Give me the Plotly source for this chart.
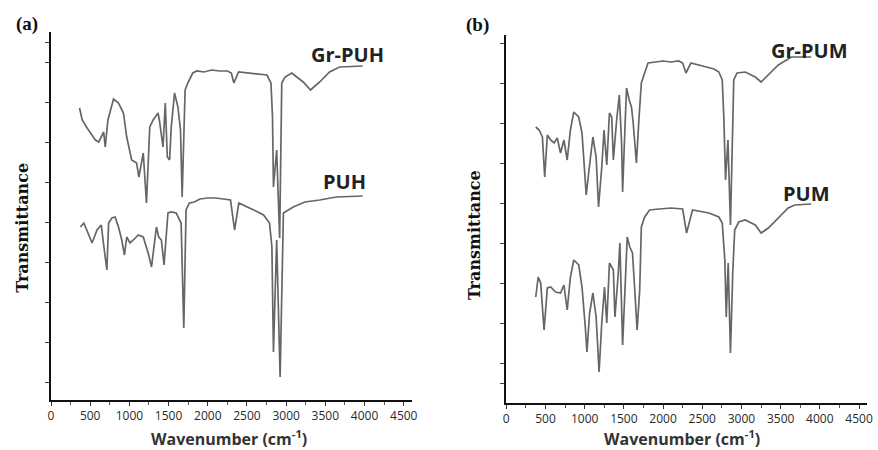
import plotly.graph_objects as go

# ---------------- data ----------------
# Panel (a)
gr_puh_wn = [364, 398, 461, 566, 609, 672, 692, 726, 798, 861, 924, 966, 1029, 1092, 1121, 1177,
             1218, 1260, 1303, 1366, 1386, 1429, 1458, 1484, 1513, 1534, 1576, 1619, 1652, 1673,
             1711, 1745, 1808, 1860, 1950, 2050, 2150, 2250, 2300, 2333, 2393, 2500, 2650, 2755,
             2806, 2826, 2838, 2879, 2917, 2944, 2986, 3071, 3217, 3311, 3428, 3554, 3681, 3975]
gr_puh_t = [292, 280, 272, 260, 258, 268, 253, 280, 301, 297, 287, 263, 240, 237, 223, 247,
            197, 273, 280, 287, 278, 253, 297, 243, 240, 273, 307, 293, 270, 203,
            310, 317, 327, 329, 328, 330, 329, 329, 327, 317, 328, 327, 326, 325,
            317, 283, 213, 250, 162, 317, 323, 327, 318, 310, 318, 328, 333, 334]

puh_wn = [376, 419, 482, 524, 587, 641, 672, 713, 735, 777, 818, 861, 903, 937, 966, 1008, 1050,
          1114, 1177, 1218, 1247, 1282, 1323, 1345, 1374, 1408, 1442, 1471, 1492, 1534, 1597,
          1660, 1694, 1723, 1765, 1828, 1900, 2000, 2100, 2200, 2290, 2342, 2396, 2586, 2712,
          2788, 2818, 2838, 2879, 2923, 2965, 3091, 3239, 3428, 3639, 3975]
puh_t = [173, 177, 165, 157, 170, 175, 155, 130, 177, 182, 183, 173, 160, 145, 163, 157, 160,
         165, 163, 153, 145, 133, 160, 173, 163, 160, 135, 170, 187, 188, 187,
         177, 72, 190, 197, 198, 201, 202, 202, 201, 200, 170, 197, 190, 185,
         177, 153, 48, 160, 23, 187, 193, 198, 200, 203, 204]

# Panel (b)
gr_pum_wn = [376, 419, 461, 490, 524, 566, 609, 650, 692, 735, 777, 818, 861, 924, 966, 1008,
             1020, 1051, 1105, 1146, 1177, 1218, 1247, 1282, 1316, 1345, 1366, 1408, 1442, 1471,
             1484, 1513, 1534, 1568, 1597, 1619, 1660, 1694, 1723, 1808, 1900, 2000, 2100, 2200,
             2250, 2292, 2355, 2500, 2650, 2712, 2755, 2775, 2797, 2828, 2860, 2902, 2944, 3049,
             3176, 3251, 3343, 3470, 3639, 3891]
gr_pum_t = [276, 273, 266, 226, 268, 263, 260, 265, 250, 263, 243, 273, 291, 286, 270, 226,
            208, 230, 266, 246, 196, 236, 273, 238, 290, 286, 243, 283, 308, 260,
            211, 273, 315, 303, 296, 280, 240, 286, 320, 340, 341, 342, 341, 342,
            340, 330, 340, 337, 334, 331, 323, 286, 223, 263, 178, 323, 330, 331,
            326, 321, 328, 338, 346, 346]

pum_wn = [376, 407, 439, 482, 524, 566, 629, 692, 735, 777, 818, 861, 924, 966, 1008, 1029, 1063,
          1105, 1146, 1184, 1218, 1253, 1282, 1316, 1366, 1386, 1429, 1449, 1484, 1513, 1543,
          1576, 1610, 1639, 1669, 1702, 1723, 1765, 1828, 1950, 2100, 2250, 2300, 2376, 2586,
          2712, 2755, 2788, 2806, 2831, 2860, 2889, 2914, 2965, 3049, 3176, 3251, 3343, 3470,
          3596, 3680, 3891]
pum_t = [106, 126, 120, 73, 115, 116, 111, 110, 118, 93, 126, 143, 138, 116, 76, 51, 90,
         110, 86, 31, 80, 116, 80, 140, 133, 86, 130, 160, 58, 113, 166,
         156, 150, 113, 73, 113, 176, 186, 193, 194, 195, 194, 170, 193, 190,
         186, 180, 143, 86, 140, 50, 130, 173, 181, 183, 178, 170, 175, 185,
         195, 198, 199]

x_tick_vals = [0, 500, 1000, 1500, 2000, 2500, 3000, 3500, 4000, 4500]
x_tick_text = ["0", "500", "1000", "1500", "2000", "2500", "3000", "3500", "4000", "4500"]
y_ticks_a = [18, 58, 98, 138, 178, 218, 258, 298, 338, 358]
y_ticks_b = [20, 40, 80, 120, 160, 200, 240, 280, 320, 360]

# ---------------- figure ----------------
W, H = 878, 450
line_style = dict(color="#666666", width=1.7)

fig = go.Figure()
fig.add_trace(go.Scatter(x=gr_puh_wn, y=gr_puh_t, mode="lines", line=line_style,
                         xaxis="x", yaxis="y", name="Gr-PUH"))
fig.add_trace(go.Scatter(x=puh_wn, y=puh_t, mode="lines", line=line_style,
                         xaxis="x", yaxis="y", name="PUH"))
fig.add_trace(go.Scatter(x=gr_pum_wn, y=gr_pum_t, mode="lines", line=line_style,
                         xaxis="x2", yaxis="y2", name="Gr-PUM"))
fig.add_trace(go.Scatter(x=pum_wn, y=pum_t, mode="lines", line=line_style,
                         xaxis="x2", yaxis="y2", name="PUM"))

def px_x(p):
    return p / W

def px_y(p):
    return 1 - p / H

xcommon = dict(range=[0, 4600], showgrid=False, zeroline=False, showline=True,
               linecolor="#111", linewidth=2, ticks="outside", ticklen=4, tickwidth=1,
               tickcolor="#333", tickvals=x_tick_vals, ticktext=x_tick_text,
               tickfont=dict(family="Open Sans", size=12, color="#2a2a2a"),
               minor=dict(ticks="outside", ticklen=3, tickcolor="#555", dtick=250, tick0=0),
               fixedrange=True)
ycommon = dict(range=[0, 368], showgrid=False, zeroline=False, showline=True,
               linecolor="#111", linewidth=2, ticks="outside", ticklen=4, tickwidth=1,
               tickcolor="#444", showticklabels=False, fixedrange=True)

fig.update_layout(
    width=W, height=H,
    margin=dict(l=0, r=0, t=0, b=0),
    paper_bgcolor="white", plot_bgcolor="white",
    showlegend=False,
    xaxis=dict(domain=[px_x(48.5), px_x(412.8)], anchor="y", **xcommon),
    yaxis=dict(domain=[px_y(400), px_y(32)], anchor="x", tickvals=y_ticks_a, **ycommon),
    xaxis2=dict(domain=[px_x(508.5), px_x(872.8)], anchor="y2", **xcommon),
    yaxis2=dict(domain=[px_y(403), px_y(35)], anchor="x2", tickvals=y_ticks_b, **ycommon),
)

def ann(text, x, y, size, family, color="#111", angle=0):
    fig.add_annotation(text=text, x=px_x(x), y=px_y(y), xref="paper", yref="paper",
                       showarrow=False, textangle=angle,
                       font=dict(family=family, size=size, color=color),
                       xanchor="center", yanchor="middle")

ann("<b>(a)</b>", 24, 24, 19, "Liberation Serif")
ann("<b>(b)</b>", 479, 25, 19, "Liberation Serif")
ann("<b>Gr-PUH</b>", 348, 54, 20, "Open Sans", "#222")
ann("<b>PUH</b>", 345, 182, 20, "Open Sans", "#222")
ann("<b>Gr-PUM</b>", 815, 51, 20, "Open Sans", "#222")
ann("<b>PUM</b>", 812, 193, 20, "Open Sans", "#222")
ann("<b>Transmittance</b>", 19, 228, 16, "DejaVu Serif", "#111", -90)
ann("<b>Transmittance</b>", 476, 235, 16, "DejaVu Serif", "#111", -90)
ann("<b>Wavenumber (cm<sup>-1</sup>)</b>", 228, 438, 16, "Open Sans", "#333")
ann("<b>Wavenumber (cm<sup>-1</sup>)</b>", 686, 438, 16, "Open Sans", "#333")

fig.write_html("out.html", config={"displayModeBar": False},
               post_script="document.body.style.margin='0';document.body.style.overflow='hidden';")
